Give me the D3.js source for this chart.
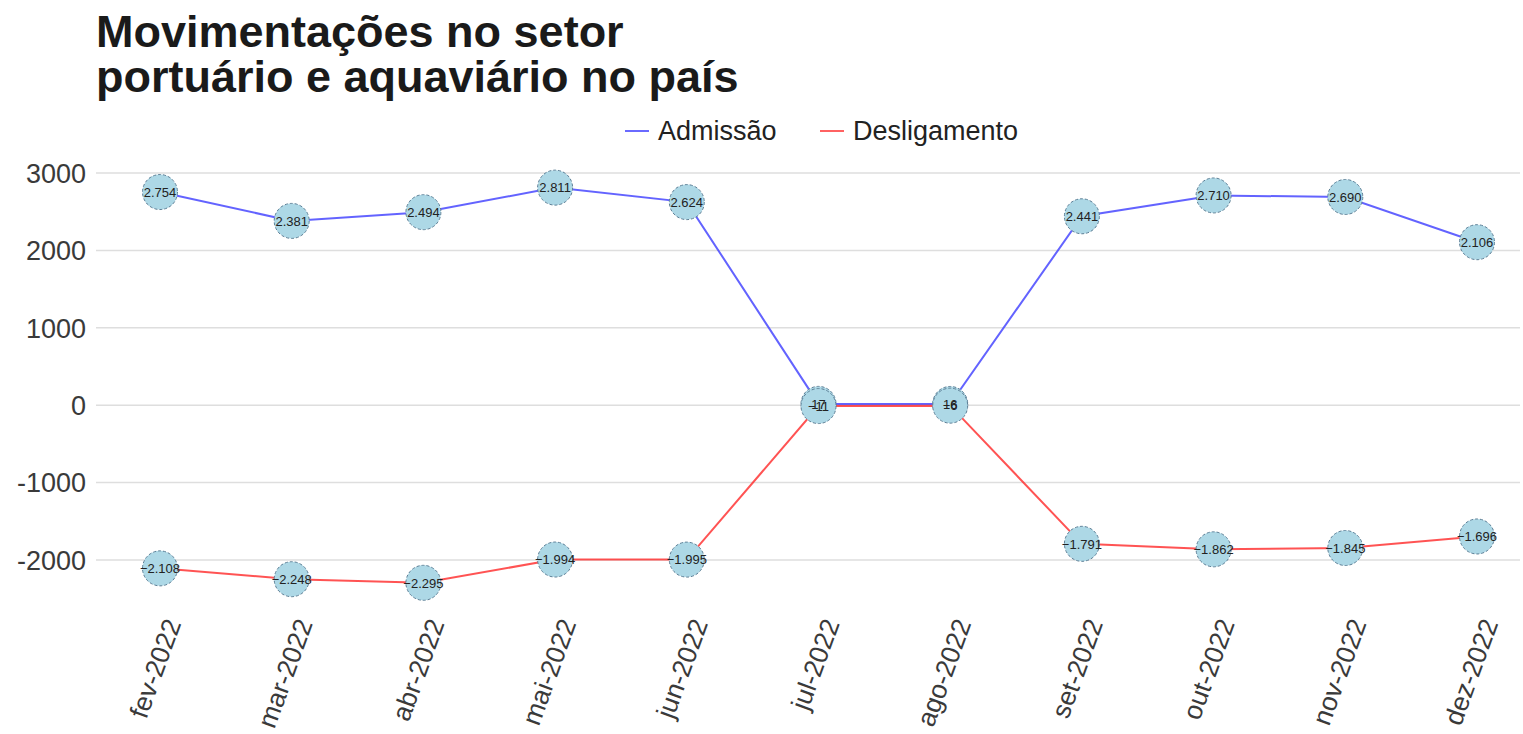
<!DOCTYPE html>
<html>
<head>
<meta charset="utf-8">
<script src="https://cdn.jsdelivr.net/npm/d3@7"></script>
<style>
  body { margin: 0; background: #fff; }
  text { font-family: "Liberation Sans", Arial, sans-serif; }
</style>
</head>
<body>
<div class="chart"></div>
<script>
const months = ['fev-2022','mar-2022','abr-2022','mai-2022','jun-2022','jul-2022','ago-2022','set-2022','out-2022','nov-2022','dez-2022'];
const admissao = [2754, 2381, 2494, 2811, 2624, 17, 16, 2441, 2710, 2690, 2106];
const desligamento = [-2108, -2248, -2295, -1994, -1995, -11, -6, -1791, -1862, -1845, -1696];
const yTicks = [-2000, -1000, 0, 1000, 2000, 3000];

const width = 1523, height = 734;

const svg = d3.select('.chart')
              .append('svg')
              .attr('width', width)
              .attr('height', height);

const xScale = d3.scalePoint()
                 .domain(months)
                 .range([160, 1477]);

const yScale = d3.scaleLinear()
                 .domain([-2000, 3000])
                 .range([560, 173]);

// grid
svg.append('g')
   .selectAll('line')
   .data(yTicks)
   .enter()
   .append('line')
   .attr('x1', 96)
   .attr('x2', 1520)
   .attr('y1', d=>yScale(d))
   .attr('y2', d=>yScale(d))
   .attr('stroke', '#dedede')
   .attr('stroke-width', 1.5);

// y axis labels
svg.append('g')
   .selectAll('text')
   .data(yTicks)
   .enter()
   .append('text')
   .attr('x', 86)
   .attr('y', d=>yScale(d))
   .attr('dy', '0.36em')
   .attr('text-anchor', 'end')
   .attr('font-size', 27)
   .attr('fill', '#3a3a3a')
   .text(d=>d);

// x axis labels
svg.append('g')
   .selectAll('text')
   .data(months)
   .enter()
   .append('text')
   .attr('transform', d=>`translate(${xScale(d)+13}, 620) rotate(-70)`)
   .attr('text-anchor', 'end')
   .attr('dominant-baseline', 'central')
   .attr('font-size', 26.5)
   .attr('fill', '#3a3a3a')
   .text(d=>d);

const series = [
  {name: 'Admissão', values: admissao, color: 'rgba(60,60,255,0.8)'},
  {name: 'Desligamento', values: desligamento, color: 'rgba(255,40,40,0.8)'}
];

const line = d3.line()
               .x((d,i)=>xScale(months[i]))
               .y(d=>yScale(d));

series.forEach(s=>{
  svg.append('path')
     .datum(s.values)
     .attr('d', line)
     .attr('fill', 'none')
     .attr('stroke', s.color)
     .attr('stroke-width', 2);
});

series.forEach(s=>{
  svg.append('g')
     .selectAll('circle')
     .data(s.values)
     .enter()
     .append('circle')
     .attr('cx', (d,i)=>xScale(months[i]))
     .attr('cy', d=>yScale(d))
     .attr('r', 17.5)
     .attr('fill', '#add8e6')
     .attr('stroke', '#5d7f96')
     .attr('stroke-width', 1)
     .attr('stroke-dasharray', '3,2');
});

series.forEach(s=>{
  svg.append('g')
     .selectAll('text')
     .data(s.values)
     .enter()
     .append('text')
     .attr('x', (d,i)=>xScale(months[i]))
     .attr('y', d=>yScale(d))
     .attr('dy', '0.36em')
     .attr('text-anchor', 'middle')
     .attr('font-size', 13)
     .attr('fill', '#222')
     .text(d=>d3.format(',')(d).replace(/,/g, '.'));
});

// legend
const legend = [
  {name: 'Admissão', color: 'rgba(80,80,255,0.85)', x: 625},
  {name: 'Desligamento', color: 'rgba(255,70,70,0.85)', x: 820}
];
legend.forEach(l=>{
  svg.append('line')
     .attr('x1', l.x).attr('x2', l.x+24)
     .attr('y1', 131).attr('y2', 131)
     .attr('stroke', l.color)
     .attr('stroke-width', 2);
  svg.append('text')
     .attr('x', l.x+33)
     .attr('y', 140)
     .attr('font-size', 27)
     .attr('fill', '#222')
     .text(l.name);
});

// title
svg.append('text')
   .attr('x', 96)
   .attr('y', 47)
   .attr('font-size', 45)
   .attr('font-weight', 'bold')
   .attr('fill', '#1a1a1a')
   .text('Movimentações no setor');
svg.append('text')
   .attr('x', 96)
   .attr('y', 92)
   .attr('font-size', 45)
   .attr('font-weight', 'bold')
   .attr('fill', '#1a1a1a')
   .text('portuário e aquaviário no país');
</script>
</body>
</html>
